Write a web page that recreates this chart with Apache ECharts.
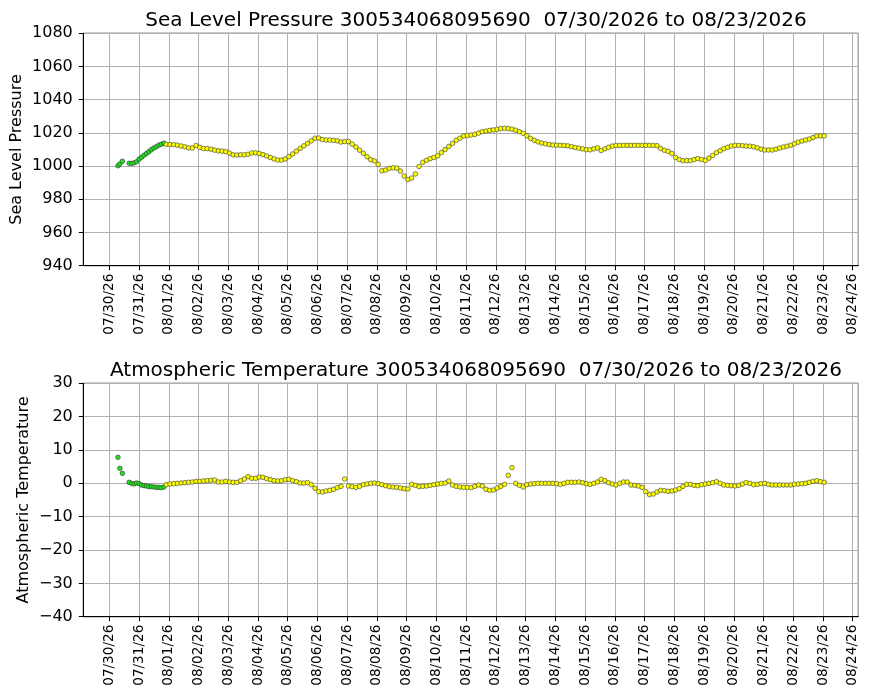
<!DOCTYPE html>
<html>
<head>
<meta charset="utf-8">
<script src="https://cdn.jsdelivr.net/npm/echarts@6/dist/echarts.min.js"></script>
<style>html,body{margin:0;padding:0;background:#fff}#c{width:871px;height:700px}</style>
</head>
<body>
<div id="c"></div>
<script>
// ---- data (hours are offsets from 07/30/2026 00:00 local) ----
const buoyId = '300534068095690';
const titlePressure = 'Sea Level Pressure ' + buoyId + '  07/30/2026 to 08/23/2026';
const titleTemp = 'Atmospheric Temperature ' + buoyId + '  07/30/2026 to 08/23/2026';
const pressureAxis = [940, 1080, 20];
const tempAxis = [-40, 30, 10];

const greenHours = [7, 8.5, 10.5, 16, 18, 20, 22, 24, 26, 28, 30, 32, 34, 36, 38, 40, 42, 44];
const pressureGreen = [1000.2, 1001.3, 1002.9, 1001.7, 1001.6, 1002.0, 1002.6, 1004.2, 1005.3, 1006.5, 1007.6, 1008.7, 1009.9, 1010.9, 1011.7, 1012.6, 1013.2, 1013.8];
const tempGreen = [7.8, 4.5, 3.0, 0.3, 0.0, -0.2, 0.1, -0.1, -0.5, -0.7, -0.8, -1.0, -1.0, -1.1, -1.2, -1.2, -1.3, -1.1];

const yellowStartHour = 46;
const yellowStepHours = 3;
const pressureYellow = [
 1013.1, 1013.0, 1012.9, 1012.6, 1012.1, 1011.6, 1011.0, 1010.9, 1012.4, 1011.3,
 1010.6, 1010.5, 1010.2, 1009.6, 1009.2, 1009.0, 1008.7, 1007.8, 1006.8, 1006.7,
 1006.8, 1006.8, 1007.1, 1007.9, 1008.0, 1007.6, 1006.9, 1006.1, 1005.2, 1004.3,
 1003.7, 1003.6, 1004.3, 1005.7, 1007.3, 1009.0, 1010.7, 1012.2, 1013.7, 1015.2,
 1016.8, 1016.9, 1016.0, 1015.7, 1015.7, 1015.5, 1015.2, 1014.5, 1014.8, 1014.8,
 1013.2, 1011.5, 1009.6, 1007.7, 1005.6, 1003.9, 1003.1, 1001.0, 997.2, 997.6,
 998.6, 999.0, 998.8, 997.0, 994.0, 991.9, 992.8, 995.3, 999.8, 1002.3,
 1003.5, 1004.5, 1005.2, 1006.2, 1008.1, 1010.0, 1011.8, 1013.7, 1015.6, 1016.8,
 1018.1, 1018.5, 1018.7, 1019.1, 1019.9, 1020.7, 1021.1, 1021.5, 1021.8, 1022.2,
 1022.6, 1022.8, 1022.6, 1022.3, 1021.6, 1020.7, 1019.8, 1018.3, 1016.7, 1015.5,
 1014.6, 1013.9, 1013.4, 1013.0, 1012.7, 1012.6, 1012.5, 1012.4, 1012.2, 1011.7,
 1011.2, 1010.8, 1010.4, 1009.9, 1009.8, 1010.4, 1011.0, 1009.4, 1010.4, 1011.3,
 1012.1, 1012.4, 1012.4, 1012.5, 1012.5, 1012.5, 1012.5, 1012.5, 1012.5, 1012.5,
 1012.5, 1012.5, 1012.3, 1010.6, 1009.5, 1008.9, 1007.6, 1005.2, 1004.0, 1003.3,
 1003.3, 1003.3, 1003.9, 1004.5, 1004.0, 1003.4, 1004.8, 1006.4, 1008.1, 1009.3,
 1010.5, 1011.3, 1012.1, 1012.5, 1012.5, 1012.3, 1012.1, 1012.0, 1011.7, 1011.0,
 1010.2, 1009.7, 1009.7, 1009.7, 1010.2, 1010.9, 1011.5, 1012.0, 1012.6, 1013.5,
 1014.4, 1015.1, 1015.7, 1016.3, 1017.2, 1018.2, 1018.2, 1018.2
];
const tempYellow = [
 -0.4, -0.2, -0.1, 0.0, 0.1, 0.2, 0.3, 0.4, 0.6, 0.6,
 0.7, 0.8, 0.9, 1.0, 0.4, 0.4, 0.6, 0.4, 0.3, 0.3,
 0.8, 1.3, 2.0, 1.5, 1.5, 1.9, 1.8, 1.4, 1.1, 0.8,
 0.7, 0.8, 1.1, 1.2, 0.8, 0.5, 0.1, 0.1, 0.2, -0.4,
 -1.5, -2.5, -2.6, -2.3, -2.1, -1.8, -1.3, -0.9, 1.3, -0.8,
 -1.0, -1.2, -0.9, -0.4, -0.2, 0.0, 0.1, -0.1, -0.4, -0.7,
 -1.0, -1.1, -1.2, -1.4, -1.6, -1.7, -0.3, -0.6, -1.0, -0.9,
 -0.8, -0.6, -0.4, -0.2, 0.0, 0.1, 0.7, -0.5, -0.9, -1.1,
 -1.2, -1.2, -1.3, -0.9, -0.5, -0.8, -1.8, -2.1, -2.0, -1.4,
 -0.9, -0.3, 2.4, 4.7, 0.0, -0.6, -1.1, -0.4, -0.2, -0.1,
 0.0, 0.0, 0.0, 0.0, 0.0, -0.1, -0.3, 0.0, 0.3, 0.3,
 0.3, 0.4, 0.2, -0.1, -0.3, 0.0, 0.4, 1.2, 0.8, 0.2,
 -0.2, -0.5, 0.0, 0.4, 0.4, -0.5, -0.6, -0.8, -1.2, -2.5,
 -3.4, -3.2, -2.6, -2.1, -2.2, -2.4, -2.3, -2.0, -1.6, -0.9,
 -0.3, -0.3, -0.6, -0.7, -0.4, -0.2, 0.0, 0.2, 0.5, 0.0,
 -0.5, -0.6, -0.7, -0.8, -0.6, -0.2, 0.2, 0.0, -0.4, -0.3,
 -0.1, 0.0, -0.3, -0.5, -0.5, -0.5, -0.5, -0.5, -0.5, -0.3,
 -0.2, -0.1, 0.0, 0.3, 0.6, 0.8, 0.5, 0.3
];

// ---- chart ----
const H = 3600 * 1000;
const baseTime = new Date(2026, 6, 30).getTime();
const axisMin = baseTime - 21 * H;
const axisMax = baseTime + 604.5 * H;
const FONT = 'DejaVu Sans';

function greenPairs(vals) { return vals.map((v, i) => [baseTime + greenHours[i] * H, v]); }
function yellowPairs(vals) { return vals.map((v, i) => [baseTime + (yellowStartHour + i * yellowStepHours) * H, v]); }
function pad(n) { return (n < 10 ? '0' : '') + n; }
function dateFmt(val) {
  const d = new Date(val);
  return pad(d.getMonth() + 1) + '/' + pad(d.getDate()) + '/' + String(d.getFullYear()).slice(2);
}
function numFmt(v) { return String(v).replace('-', '\u2212'); }

function xAxis(gi) {
  return {
    type: 'time', gridIndex: gi, min: axisMin, max: axisMax,
    minInterval: 24 * H, maxInterval: 24 * H,
    axisLine: { show: true, onZero: false, lineStyle: { color: '#000', width: 1 } },
    axisTick: { show: true, length: 4.5, lineStyle: { color: '#000', width: 1 } },
    axisLabel: { rotate: 90, formatter: dateFmt, fontSize: 13.6, fontFamily: FONT, color: '#000', margin: 8, hideOverlap: false },
    splitLine: { show: true, lineStyle: { color: '#b0b0b0', width: 1 } }
  };
}
function yAxis(gi, ax, name, gap) {
  return {
    type: 'value', gridIndex: gi, min: ax[0], max: ax[1], interval: ax[2],
    name: name, nameLocation: 'middle', nameGap: gap, nameMoveOverlap: false,
    nameTextStyle: { fontSize: 16, fontFamily: FONT, color: '#000' },
    axisLine: { show: true, onZero: false, lineStyle: { color: '#000', width: 1 } },
    axisTick: { show: true, length: 4.5, lineStyle: { color: '#000', width: 1 } },
    axisLabel: { fontSize: 16, fontFamily: FONT, color: '#000', margin: 10.5, formatter: numFmt },
    splitLine: { show: true, lineStyle: { color: '#b0b0b0', width: 1 } }
  };
}
function scatter(gi, data, color) {
  return {
    type: 'scatter', xAxisIndex: gi, yAxisIndex: gi, data: data,
    symbol: 'circle', symbolSize: 4.6,
    itemStyle: { color: color, borderColor: '#333', borderWidth: 0.6, opacity: 1 },
    emphasis: { disabled: true }, silent: true
  };
}

const chart = echarts.init(document.getElementById('c'), null, { renderer: 'canvas' });
chart.setOption({
  animation: false,
  backgroundColor: '#fff',
  textStyle: { fontFamily: FONT },
  title: [
    { text: titlePressure, left: 471, top: 6, textAlign: 'center', textStyle: { fontSize: 20, fontWeight: 'normal', fontFamily: FONT, color: '#000' } },
    { text: titleTemp, left: 471, top: 356, textAlign: 'center', textStyle: { fontSize: 20, fontWeight: 'normal', fontFamily: FONT, color: '#000' } }
  ],
  grid: [
    { left: 83.3, top: 33.3, width: 775, height: 232.4, show: true, borderColor: '#000', borderWidth: 1, backgroundColor: 'transparent', containLabel: false, outerBoundsMode: 'none' },
    { left: 83.3, top: 383.3, width: 775, height: 233.4, show: true, borderColor: '#000', borderWidth: 1, backgroundColor: 'transparent', containLabel: false, outerBoundsMode: 'none' }
  ],
  xAxis: [xAxis(0), xAxis(1)],
  yAxis: [yAxis(0, pressureAxis, 'Sea Level Pressure', 58), yAxis(1, tempAxis, 'Atmospheric Temperature', 51)],
  series: [
    scatter(0, greenPairs(pressureGreen), '#22e022'),
    scatter(0, yellowPairs(pressureYellow), '#ffff00'),
    scatter(1, greenPairs(tempGreen), '#22e022'),
    scatter(1, yellowPairs(tempYellow), '#ffff00')
  ]
});
</script>
</body>
</html>
